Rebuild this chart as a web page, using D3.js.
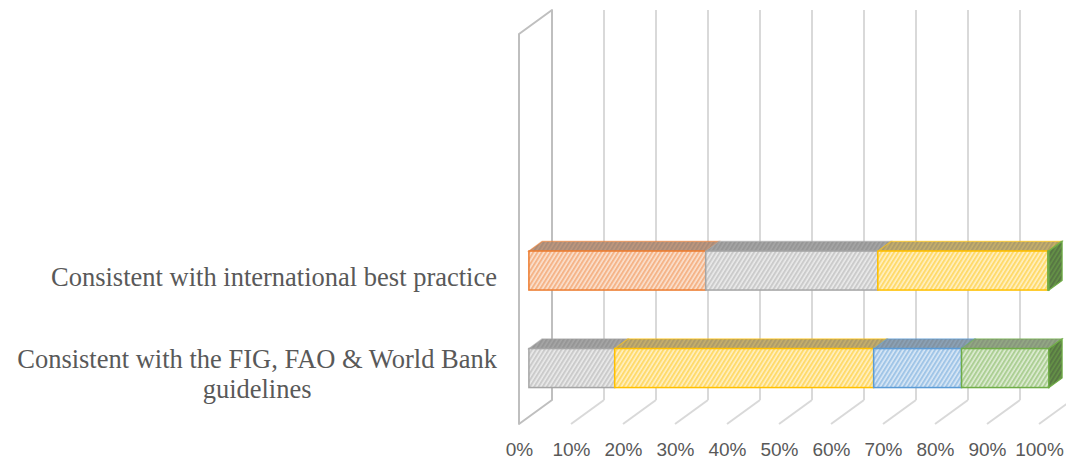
<!DOCTYPE html>
<html>
<head>
<meta charset="utf-8">
<script src="https://cdnjs.cloudflare.com/ajax/libs/d3/7.8.5/d3.min.js"></script>
<style>
  html, body { margin: 0; padding: 0; background: #fff; }
  svg { display: block; }
</style>
</head>
<body>
<script>
// categories, bottom to top (the two top slots are empty in the original chart)
const categories = [
  ["Consistent with the FIG, FAO & World Bank", "guidelines"],
  ["Consistent with international best practice"],
  [],
  []
];
const seriesNames  = ["s2", "s3", "s4", "s5", "s6"];
const seriesColors = ["#ED7D31", "#A5A5A5", "#FFC000", "#5B9BD5", "#70AD47"];
// share (%) per category, one list per series
const orangeVals = [0,    34.0, 0, 0];
const grayVals   = [16.5, 33.1, 0, 0];
const yellowVals = [49.8, 32.7, 0, 0];
const blueVals   = [16.9, 0,    0, 0];
const greenVals  = [16.8, 0.2,  0, 0];
const tickValues = [0, 0.1, 0.2, 0.3, 0.4, 0.5, 0.6, 0.7, 0.8, 0.9, 1];

const W = 1066, H = 466;
const DX = 33, DY = -24;          // depth vector of the 3d box
const D0 = 0.3, D1 = 0.7;         // bar depth (front / back)

const svg = d3.select("body").append("svg")
  .attr("width", W).attr("height", H);
const defs = svg.append("defs");

const X = d3.scaleLinear().domain([0, 1]).range([519, 1039]);
const Y = d3.scaleBand().domain(d3.range(categories.length).reverse())
  .range([34, 424]).paddingInner(0.6).paddingOuter(0.3);

const rows = categories.map((c, i) => ({
  cat: i,
  s2: orangeVals[i], s3: grayVals[i], s4: yellowVals[i], s5: blueVals[i], s6: greenVals[i]
}));
const stacked = d3.stack().keys(seriesNames).offset(d3.stackOffsetExpand)(rows);

// hatch patterns
function hatch(id, bg, stripe, sw) {
  const p = defs.append("pattern").attr("id", id)
    .attr("patternUnits", "userSpaceOnUse")
    .attr("width", 3.6).attr("height", 3.6)
    .attr("patternTransform", "rotate(32)");
  p.append("rect").attr("width", 3.6).attr("height", 3.6).attr("fill", bg);
  p.append("line").attr("x1", 1).attr("x2", 1).attr("y1", 0).attr("y2", 3.6)
    .attr("stroke", stripe).attr("stroke-width", sw);
}
const mix = (a, b, t) => d3.interpolateRgb(a, b)(t);
seriesColors.forEach((c, i) => {
  const bg = mix(c, "#fff", 0.42);
  hatch("front" + i, bg, mix(c, "#fff", 0.85), 1.3);
  hatch("top" + i, mix(bg, "#6a6a6a", 0.55), mix(bg, "#6a6a6a", 0.35), 1.3);
  hatch("side" + i, mix(c, "#404040", 0.5), mix(c, "#404040", 0.2), 1.4);
});

// back wall gridlines + floor lines
const grid = svg.append("g");
grid.selectAll("line.back").data(tickValues.slice(1)).join("line")
  .attr("x1", d => X(d) + DX).attr("x2", d => X(d) + DX)
  .attr("y1", 34 + DY).attr("y2", 424 + DY)
  .attr("stroke", "#d9d9d9").attr("stroke-width", 2);
grid.selectAll("line.floor").data(tickValues.slice(1)).join("line")
  .attr("x1", d => X(d) + DX).attr("y1", 424 + DY)
  .attr("x2", d => X(d)).attr("y2", 424)
  .attr("stroke", "#d9d9d9").attr("stroke-width", 2);

// left wall
svg.append("polygon")
  .attr("points", [[X(0), 34], [X(0) + DX, 34 + DY], [X(0) + DX, 424 + DY], [X(0), 424]].join(" "))
  .attr("fill", "#fff").attr("stroke", "#bfbfbf").attr("stroke-width", 2)
  .attr("stroke-linejoin", "round");

// bars
const bars = svg.append("g");
const bw = Y.bandwidth();
const ox = D0 * DX, oy = D0 * DY;
const tx = (D1 - D0) * DX, ty = (D1 - D0) * DY;
const segs = [];
stacked.forEach((s, si) => s.forEach((d, j) => {
  if (d[1] - d[0] <= 0) return;
  segs.push({ si, cat: d.data.cat, x0: X(d[0]) + ox, x1: X(d[1]) + ox, y0: Y(d.data.cat) + oy });
}));

bars.selectAll("polygon.top").data(segs).join("polygon")
  .attr("points", d => [[d.x0, d.y0], [d.x1, d.y0], [d.x1 + tx, d.y0 + ty], [d.x0 + tx, d.y0 + ty]].join(" "))
  .attr("fill", d => `url(#top${d.si})`)
  .attr("stroke", d => seriesColors[d.si]).attr("stroke-width", 1.2).attr("stroke-opacity", 0.6);

bars.selectAll("rect.front").data(segs).join("rect")
  .attr("x", d => d.x0).attr("y", d => d.y0)
  .attr("width", d => d.x1 - d.x0).attr("height", bw)
  .attr("fill", d => `url(#front${d.si})`)
  .attr("stroke", d => seriesColors[d.si]).attr("stroke-width", 1.5);

// end cap on the last segment of each bar
const caps = d3.rollups(segs, v => v[v.length - 1], d => d.cat).map(d => d[1]);
bars.selectAll("polygon.side").data(caps).join("polygon")
  .attr("points", d => [[d.x1, d.y0], [d.x1 + tx, d.y0 + ty], [d.x1 + tx, d.y0 + ty + bw], [d.x1, d.y0 + bw]].join(" "))
  .attr("fill", d => `url(#side${d.si})`)
  .attr("stroke", d => seriesColors[d.si]).attr("stroke-width", 1.2);

// category labels
const fs = 26.5;
categories.forEach((lines, i) => {
  if (!lines.length) return;
  const g = svg.append("g");
  const cy = Y(i) + bw / 2;
  const texts = lines.map((t, k) => g.append("text")
    .attr("y", cy + (k - (lines.length - 1) / 2) * 30 + fs * 0.3)
    .attr("text-anchor", "middle")
    .attr("font-family", "'Liberation Serif', 'Times New Roman', serif")
    .attr("font-size", fs).attr("fill", "#595959")
    .text(t));
  const maxW = d3.max(texts, t => t.node().getComputedTextLength());
  texts.forEach(t => t.attr("x", 497 - maxW / 2));
});

// value axis labels
const axis = svg.append("g").attr("transform", "translate(0,424)")
  .call(d3.axisBottom(X).tickValues(tickValues).tickFormat(d3.format(".0%"))
    .tickSize(0).tickPadding(18.5));
axis.select(".domain").remove();
axis.selectAll("text")
  .attr("font-family", "'Liberation Sans', Arial, sans-serif")
  .attr("font-size", 19).attr("fill", "#595959");
</script>
</body>
</html>
